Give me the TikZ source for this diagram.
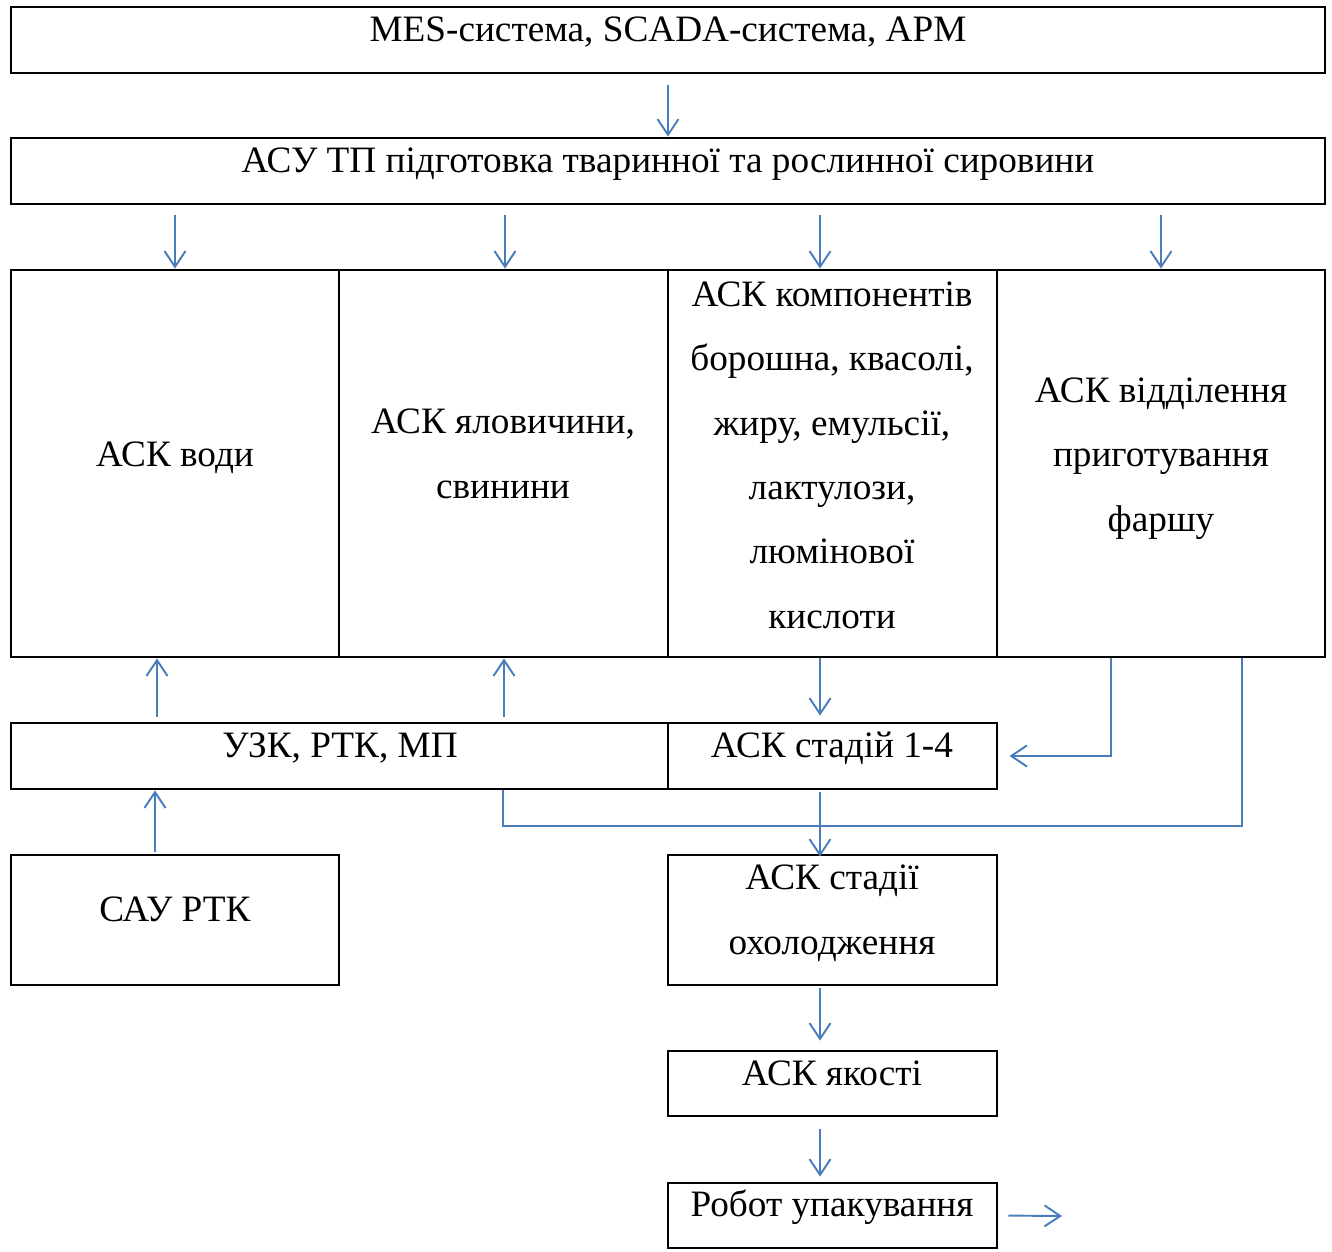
\documentclass[tikz,border=0pt]{standalone}
\usepackage{fontspec}
\setmainfont{Liberation Serif}
\usepackage{tikz}
\usetikzlibrary{arrows.meta, fit}
\definecolor{wordblue}{HTML}{4A7EBB}
\tikzset{
  box/.style={draw, line width=1.6pt, inner sep=0pt},
  txt/.style={anchor=base, align=center, inner sep=0pt, font=\fontsize{21.2}{36.6}\selectfont},
  arr/.style={draw=wordblue, line width=1.1pt, -{Straight Barb[length=9pt, width=12pt]}},
  link/.style={draw=wordblue, line width=1.1pt}
}
\begin{document}
\begin{tikzpicture}[x=0.02cm, y=-0.02cm]
  \useasboundingbox (0,0) rectangle (1332,1251);
  \node[box, fit={(11,7) (1325,73)}] (mes) {};
  \node[box, fit={(11,138) (1325,204)}] (asu) {};
  \node[box, fit={(11,270) (339,657)}] (voda) {};
  \node[box, fit={(339,270) (668,657)}] (myaso) {};
  \node[box, fit={(668,270) (997,657)}] (komp) {};
  \node[box, fit={(997,270) (1325,657)}] (farsh) {};
  \node[box, fit={(11,723) (668,789)}] (uzk) {};
  \node[box, fit={(668,723) (997,789)}] (stad) {};
  \node[box, fit={(11,855) (339,985)}] (sau) {};
  \node[box, fit={(668,855) (997,985)}] (ohol) {};
  \node[box, fit={(668,1051) (997,1116)}] (yak) {};
  \node[box, fit={(668,1183) (997,1248)}] (robot) {};

  \node[txt] (mes-t) at (668,41) {MES-система, SCADA-система, АРМ};
  \node[txt] (asu-t) at (668,172) {АСУ ТП підготовка тваринної та рослинної сировини};
  \node[txt] (voda-t) at (175,466) {АСК води};
  \node[txt] (myaso-t) at (503,498) {АСК яловичини,\\свинини};
  \node[txt] (komp-t) at (832,628) {АСК компонентів\\борошна, квасолі,\\жиру, емульсії,\\лактулози,\\люмінової\\кислоти};
  \node[txt] (farsh-t) at (1161,531) {АСК відділення\\приготування\\фаршу};
  \node[txt] (uzk-t) at (340,757) {УЗК, РТК, МП};
  \node[txt] (stad-t) at (832,757) {АСК стадій 1-4};
  \node[txt] (sau-t) at (175,921) {САУ РТК};
  \node[txt] (ohol-t) at (832,954) {АСК стадії\\охолодження};
  \node[txt] (yak-t) at (832,1085) {АСК якості};
  \node[txt] (robot-t) at (832,1216) {Робот упакування};

  \coordinate (bus) at (503,826);
  \coordinate (out) at (1062,1216);

  \draw[arr, shorten <=0.22cm] (mes.south) -- (asu.north);
  \draw[arr, shorten <=0.2cm] (asu.south -| voda.north) -- (voda.north);
  \draw[arr, shorten <=0.2cm] ([xshift=0.03cm]asu.south -| myaso.north) -- ([xshift=0.03cm]myaso.north);
  \draw[arr, shorten <=0.2cm] ([xshift=-0.25cm]asu.south -| komp.north) -- ([xshift=-0.25cm]komp.north);
  \draw[arr, shorten <=0.2cm] (asu.south -| farsh.north) -- (farsh.north);
  \draw[arr, shorten <=0.1cm] ([xshift=-0.36cm]uzk.north -| voda.south) -- ([xshift=-0.36cm]voda.south);
  \draw[arr, shorten <=0.1cm] ([xshift=0.01cm]uzk.north -| myaso.south) -- ([xshift=0.01cm]myaso.south);
  \draw[arr, shorten >=0.12cm] ([xshift=-0.25cm]komp.south) -- ([xshift=-0.25cm]komp.south |- stad.north);
  \draw[arr, shorten >=0.22cm] ([xshift=-1.0cm]farsh.south) |- (stad.east);
  \draw[link] ([xshift=1.62cm]farsh.south) |- (bus) -- (bus |- uzk.south);
  \draw[arr, shorten <=0.04cm, shorten >=-0.06cm] ([xshift=-0.25cm]stad.south) -- ([xshift=-0.25cm]ohol.north);
  \draw[arr, shorten <=0.04cm] ([xshift=-0.4cm]sau.north) -- ([xshift=-0.4cm]sau.north |- uzk.south);
  \draw[arr, shorten <=0.04cm, shorten >=0.18cm] ([xshift=-0.25cm]ohol.south) -- ([xshift=-0.25cm]yak.north);
  \draw[arr, shorten <=0.24cm, shorten >=0.1cm] ([xshift=-0.25cm]yak.south) -- ([xshift=-0.25cm]robot.north);
  \draw[arr, shorten <=0.2cm] (robot.east) -- (out);
\end{tikzpicture}
\end{document}
